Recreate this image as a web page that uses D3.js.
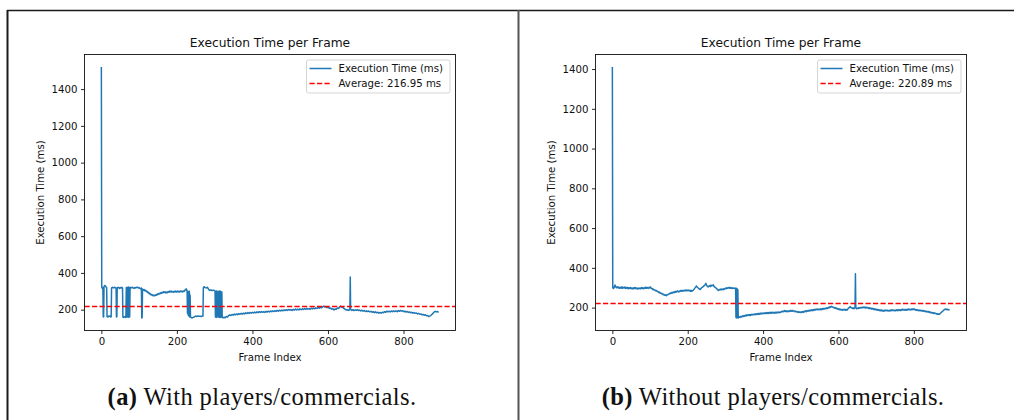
<!DOCTYPE html>
<html>
<head>
<meta charset="utf-8">
<script src="https://cdn.jsdelivr.net/npm/d3@7"></script>
<style>
  body { margin: 0; background: #fff; }
  svg { display: block; }
</style>
</head>
<body>
<svg id="fig" width="1018" height="420"></svg>
<script>
// Execution time per frame, [frame index, ms] — run with players/commercials
const seriesWith = [
  [0,1520],[1,325],[2,318],[3,316],[4,320],[5,162],[6,160],[7,325],[9,332],[11,328],[13,322],[14,320],
  [15,162],[17,160],[19,165],[21,163],[23,166],[25,160],[26,163],[27,318],[29,322],[31,320],[33,318],
  [35,322],[37,320],[39,318],[40,160],[41,162],[42,318],[44,322],[46,320],[48,316],[50,320],[52,318],
  [54,322],[56,318],[57,160],[59,158],[61,162],[63,160],[65,158],[66,320],[67,160],[68,322],[69,162],
  [70,320],[71,158],[72,324],[73,162],[74,318],[75,160],[76,322],[78,318],[80,320],[82,322],[84,318],
  [86,316],[88,320],[90,318],[92,322],[94,320],[96,322],[98,318],[100,320],[102,316],[104,314],[106,318],
  [107,155],[108,158],[109,312],[111,306],[113,310],[115,303],[117,306],[119,298],[121,300],[123,292],
  [125,294],[127,286],[129,288],[131,281],[133,283],[135,277],[137,280],[139,275],[141,279],[143,277],
  [145,282],[147,279],[149,286],[151,283],[153,289],[155,286],[157,292],[159,289],[161,295],[163,292],
  [165,298],[167,294],[169,297],[171,291],[173,296],[175,293],[177,299],[179,295],[181,301],[183,297],
  [185,301],[187,296],[189,299],[191,295],[193,300],[195,297],[197,301],[199,296],[201,301],[203,297],
  [205,300],[207,296],[209,302],[211,298],[213,302],[215,297],[217,301],[219,299],[221,305],[223,309],
  [225,313],[227,300],[228,180],[229,300],[230,170],[231,290],[232,165],[233,300],[234,160],
  [235,280],[236,162],[237,158],[240,155],[243,158],[246,160],[249,165],[252,163],[255,166],[258,164],
  [261,165],[264,162],[267,166],[269,165],[270,318],[272,325],[275,320],[278,318],[281,322],[284,310],
  [287,305],[290,308],[293,304],[296,306],[299,305],[301,300],[302,160],[303,300],[304,158],[305,302],
  [306,160],[307,300],[308,162],[309,298],[310,160],[311,300],[312,158],[313,302],[314,160],[315,300],
  [316,158],[317,298],[318,160],[319,296],[320,158],[322,155],[325,159],[328,156],[331,163],[334,160],
  [337,168],[340,172],[343,168],[346,174],[349,170],[352,176],[355,172],[358,177],[361,173],[364,179],
  [367,175],[370,180],[373,176],[376,181],[379,177],[382,183],[385,179],[388,184],[391,180],[394,185],
  [397,181],[400,186],[403,182],[406,187],[409,183],[412,188],[415,184],[418,189],[421,185],[424,190],
  [427,186],[430,189],[433,185],[436,191],[439,187],[442,192],[445,188],[448,193],[451,189],[454,194],
  [457,190],[460,195],[463,191],[466,196],[469,192],[472,197],[475,193],[478,198],[481,194],[484,199],
  [487,195],[490,200],[493,196],[496,201],[499,197],[502,200],[505,196],[508,202],[511,198],[514,203],
  [517,199],[520,203],[523,199],[526,204],[529,200],[532,205],[535,201],[538,206],[541,202],[544,207],
  [547,203],[550,206],[553,202],[556,208],[559,204],[562,209],[565,205],[568,210],[571,206],[574,212],
  [577,208],[580,213],[583,210],[586,215],[589,220],[592,214],[595,216],[598,211],[601,213],[604,207],
  [607,209],[610,203],[613,205],[616,199],[619,204],[622,202],[625,209],[628,207],[631,214],[634,219],
  [637,213],[640,211],[643,205],[646,202],[649,198],[652,200],[655,196],[658,201],[659,378],[660,200],
  [663,196],[666,200],[669,195],[672,199],[675,196],[678,200],[681,195],[684,198],[687,193],[690,197],
  [693,192],[696,195],[699,190],[702,194],[705,190],[708,193],[711,188],[714,191],[717,186],[720,189],
  [723,184],[726,188],[729,183],[732,186],[735,181],[738,185],[741,181],[744,186],[747,184],[750,189],
  [753,186],[756,192],[759,188],[762,192],[765,188],[768,193],[771,189],[774,194],[777,190],[780,194],
  [783,189],[786,195],[789,191],[792,196],[795,192],[798,194],[801,189],[804,192],[807,187],[810,190],
  [813,185],[816,188],[819,183],[822,186],[825,181],[828,184],[831,180],[834,182],[837,177],[840,180],
  [843,175],[846,177],[849,172],[852,174],[855,170],[858,172],[861,167],[864,168],[867,163],[869,165],
  [872,168],[875,174],[878,180],[881,187],[884,191],[887,188],[890,190],[893,186]
];

// Execution time per frame, [frame index, ms] — run without players/commercials
const seriesWithout = [
  [0,1410],[1,300],[3,296],[5,303],[7,314],[9,304],[11,300],[13,305],[15,299],[17,303],[19,297],[21,302],
  [23,298],[25,305],[27,297],[29,302],[31,299],[33,304],[35,296],[37,301],[39,297],[41,302],[43,295],
  [45,300],[47,296],[49,301],[51,295],[53,299],[55,294],[57,300],[59,296],[61,301],[63,295],[65,299],
  [67,294],[69,298],[71,295],[73,299],[75,295],[77,301],[79,296],[81,300],[83,295],[85,300],[87,297],
  [89,303],[91,297],[93,301],[95,297],[97,302],[99,299],[101,304],[103,297],[105,296],[107,291],[109,293],
  [111,288],[113,289],[115,284],[117,286],[119,281],[121,281],[123,276],[125,278],[127,272],[129,274],
  [131,269],[133,270],[135,265],[137,266],[139,262],[141,264],[143,260],[145,265],[147,264],[149,269],
  [151,268],[153,273],[155,271],[157,276],[159,273],[161,278],[163,275],[165,280],[167,277],[169,282],
  [171,279],[173,284],[175,279],[177,282],[179,280],[181,286],[183,283],[185,287],[187,283],[189,286],
  [191,284],[193,289],[195,284],[197,288],[199,285],[201,289],[203,285],[205,287],[207,282],[209,287],
  [211,283],[213,285],[215,288],[217,293],[219,298],[221,303],[223,309],[225,304],[227,300],[229,297],
  [231,293],[233,291],[235,296],[237,300],[239,303],[241,306],[243,309],[245,313],[247,318],[248,322],
  [250,312],[252,308],[254,304],[256,307],[258,311],[260,306],[262,313],[264,309],[266,311],[268,315],
  [270,306],[272,303],[274,300],[276,297],[278,293],[280,288],[282,286],[284,291],[286,289],[288,294],
  [290,290],[292,293],[294,290],[296,295],[298,293],[300,298],[302,295],[304,300],[306,297],[308,301],
  [310,298],[312,302],[314,297],[316,300],[318,296],[320,300],[322,297],[324,298],[326,295],[327,298],
  [328,150],[329,298],[330,148],[331,295],[332,150],[333,290],[334,148],[335,150],[337,154],[339,151],
  [341,156],[343,153],[345,158],[347,155],[349,160],[351,157],[353,162],[355,158],[357,164],[359,160],
  [361,164],[363,160],[365,165],[367,161],[369,166],[371,163],[373,167],[375,164],[377,168],[379,164],
  [381,169],[383,166],[385,170],[387,166],[389,171],[391,167],[393,172],[395,168],[397,173],[399,169],
  [401,173],[403,170],[405,174],[407,170],[409,175],[411,171],[413,175],[415,171],[417,176],[419,172],
  [421,176],[423,172],[425,177],[427,173],[429,176],[431,172],[433,177],[435,173],[437,178],[439,174],
  [441,178],[443,174],[445,178],[447,176],[449,181],[451,179],[453,183],[455,180],[457,185],[459,181],
  [461,184],[463,179],[465,183],[467,180],[469,184],[471,181],[473,186],[475,182],[477,186],[479,182],
  [481,184],[483,180],[485,183],[487,179],[489,181],[491,177],[493,180],[495,176],[497,178],[499,175],
  [501,179],[503,176],[505,180],[507,177],[509,182],[511,179],[513,184],[515,180],[517,185],[519,182],
  [521,186],[523,183],[525,188],[527,184],[529,189],[531,185],[533,190],[535,186],[537,191],[539,188],
  [541,193],[543,189],[545,193],[547,189],[549,192],[551,189],[553,194],[555,190],[557,195],[559,191],
  [561,196],[563,193],[565,197],[567,194],[569,199],[571,196],[573,201],[575,198],[577,204],[579,202],
  [581,207],[583,204],[585,203],[587,199],[589,201],[591,196],[593,199],[595,194],[597,196],[599,191],
  [601,194],[603,189],[605,192],[607,188],[609,191],[611,187],[613,191],[615,188],[617,192],[619,187],
  [621,190],[623,188],[625,194],[627,197],[629,201],[631,205],[633,200],[635,199],[637,196],[639,199],
  [641,195],[643,198],[644,201],[645,370],[646,199],[648,195],[650,198],[652,195],[654,200],[656,197],
  [658,201],[660,198],[662,202],[664,199],[666,203],[668,199],[670,203],[672,198],[674,202],[676,198],
  [678,201],[680,196],[682,199],[684,194],[686,198],[688,193],[690,196],[692,191],[694,195],[696,190],
  [698,193],[700,188],[702,192],[704,187],[706,190],[708,185],[710,189],[712,184],[714,188],[716,183],
  [718,186],[720,182],[722,187],[724,184],[726,188],[728,184],[730,187],[732,183],[734,186],[736,183],
  [738,188],[740,184],[742,189],[744,185],[746,188],[748,184],[750,187],[752,184],[754,189],[756,185],
  [758,190],[760,186],[762,189],[764,185],[766,190],[768,187],[770,192],[772,188],[774,191],[776,187],
  [778,190],[780,187],[782,192],[784,188],[786,193],[788,189],[790,192],[792,188],[794,193],[796,190],
  [798,194],[800,190],[802,193],[804,188],[806,190],[808,186],[810,189],[812,185],[814,188],[816,184],
  [818,187],[820,183],[822,186],[824,182],[826,185],[828,181],[830,183],[832,179],[834,182],[836,178],
  [838,181],[840,176],[842,179],[844,174],[846,177],[848,173],[850,175],[852,171],[854,174],[856,170],
  [858,172],[860,168],[862,170],[864,166],[866,168],[868,166],[870,171],[872,174],[874,178],[876,181],
  [878,185],[880,188],[882,191],[884,193],[886,190],[888,193],[890,189],[892,190],[895,187]
];

const averages = [216.95, 220.89];
const captionTags = ["(a)", "(b)"];
const captionTexts = [" With players/commercials.", " Without players/commercials."];
const xTickValues = [0, 200, 400, 600, 800];
const yTickValues = [200, 400, 600, 800, 1000, 1200, 1400];

const svg = d3.select("#fig");
const FONT = "'DejaVu Sans', sans-serif";
const BLUE = "#1f77b4";
const LABEL_SIZE = 10.2;

// outer figure frame
svg.append("line").attr("x1", 7).attr("x2", 1014).attr("y1", 10.5).attr("y2", 10.5)
  .attr("stroke", "#1a1a1a").attr("stroke-width", 1.6);
svg.append("line").attr("x1", 7.5).attr("x2", 7.5).attr("y1", 10).attr("y2", 420)
  .attr("stroke", "#1a1a1a").attr("stroke-width", 2);
svg.append("line").attr("x1", 518.5).attr("x2", 518.5).attr("y1", 10).attr("y2", 420)
  .attr("stroke", "#555").attr("stroke-width", 2);

function matplotlibDomain(vals) {
  const [lo, hi] = d3.extent(vals);
  const pad = (hi - lo) * 0.05;
  return [lo - pad, hi + pad];
}

function drawPanel(idx, data, avg, box, caption) {
  const { left, right, top, bottom } = box;
  const g = svg.append("g");

  const x = d3.scaleLinear().domain(matplotlibDomain(data.map(d => d[0]))).range([left, right]);
  const y = d3.scaleLinear().domain(matplotlibDomain(data.map(d => d[1]))).range([bottom, top]);

  const clipId = "clip" + idx;
  svg.append("clipPath").attr("id", clipId)
    .append("rect").attr("x", left).attr("y", top).attr("width", right - left).attr("height", bottom - top);

  // title
  g.append("text").attr("x", (left + right) / 2).attr("y", top - 7.5)
    .attr("text-anchor", "middle").attr("font-family", FONT).attr("font-size", 12.25)
    .attr("fill", "#111").text("Execution Time per Frame");

  // data line
  g.append("path").datum(data)
    .attr("clip-path", `url(#${clipId})`)
    .attr("fill", "none").attr("stroke", BLUE).attr("stroke-width", 1.5)
    .attr("stroke-linejoin", "round")
    .attr("d", d3.line().x(d => x(d[0])).y(d => y(d[1])));

  // average line
  g.append("line").attr("x1", left).attr("x2", right)
    .attr("y1", y(avg)).attr("y2", y(avg))
    .attr("stroke", "#ff0000").attr("stroke-width", 1.4)
    .attr("stroke-dasharray", "5.2,2.3");

  // axes
  const xAxis = g.append("g").attr("transform", `translate(0,${bottom})`)
    .call(d3.axisBottom(x).tickValues(xTickValues).tickSize(3.5).tickPadding(3.5).tickFormat(d3.format("d")));
  const yAxis = g.append("g").attr("transform", `translate(${left},0)`)
    .call(d3.axisLeft(y).tickValues(yTickValues).tickSize(3.5).tickPadding(3.5).tickFormat(d3.format("d")));
  [xAxis, yAxis].forEach(a => {
    a.select(".domain").remove();
    a.selectAll("line").attr("stroke", "#111").attr("stroke-width", 0.9);
    a.selectAll("text").attr("font-family", FONT).attr("font-size", LABEL_SIZE).attr("fill", "#111");
  });

  // spines
  g.append("rect").attr("x", left).attr("y", top).attr("width", right - left).attr("height", bottom - top)
    .attr("fill", "none").attr("stroke", "#111").attr("stroke-width", 0.9);

  // axis labels
  g.append("text").attr("x", (left + right) / 2).attr("y", bottom + 30.5)
    .attr("text-anchor", "middle").attr("font-family", FONT).attr("font-size", LABEL_SIZE)
    .attr("fill", "#111").text("Frame Index");
  g.append("text").attr("transform", `translate(${left - 41},${(top + bottom) / 2}) rotate(-90)`)
    .attr("text-anchor", "middle").attr("font-family", FONT).attr("font-size", LABEL_SIZE)
    .attr("fill", "#111").text("Execution Time (ms)");

  // legend
  const lx = right - 149, ly = top + 5.5;
  const lg = g.append("g");
  lg.append("rect").attr("x", lx).attr("y", ly).attr("width", 143.5).attr("height", 33).attr("rx", 2)
    .attr("fill", "#fff").attr("fill-opacity", 0.8).attr("stroke", "#d0d0d0").attr("stroke-width", 0.9);
  lg.append("line").attr("x1", lx + 3).attr("x2", lx + 25).attr("y1", ly + 8.5).attr("y2", ly + 8.5)
    .attr("stroke", BLUE).attr("stroke-width", 1.5);
  lg.append("line").attr("x1", lx + 3).attr("x2", lx + 25).attr("y1", ly + 23.5).attr("y2", ly + 23.5)
    .attr("stroke", "#ff0000").attr("stroke-width", 1.4).attr("stroke-dasharray", "5.2,2.3");
  lg.append("text").attr("x", lx + 32).attr("y", ly + 12.3).attr("font-family", FONT).attr("font-size", LABEL_SIZE)
    .attr("fill", "#111").text("Execution Time (ms)");
  lg.append("text").attr("x", lx + 32).attr("y", ly + 27.3).attr("font-family", FONT).attr("font-size", LABEL_SIZE)
    .attr("fill", "#111").text(`Average: ${avg.toFixed(2)} ms`);

  // caption
  const cap = svg.append("text").attr("x", caption.cx).attr("y", 405)
    .attr("text-anchor", "middle").attr("font-family", "'Liberation Serif', serif")
    .attr("font-size", 24.5).attr("letter-spacing", 0.4).attr("fill", "#111");
  cap.append("tspan").attr("font-weight", "bold").text(captionTags[idx]);
  cap.append("tspan").text(captionTexts[idx]);
}

drawPanel(0, seriesWith, averages[0], { left: 84.5, right: 455.5, top: 54.5, bottom: 330.5 }, { cx: 262 });
drawPanel(1, seriesWithout, averages[1], { left: 595.5, right: 966.5, top: 54.5, bottom: 330.5 }, { cx: 773 });
</script>
</body>
</html>
